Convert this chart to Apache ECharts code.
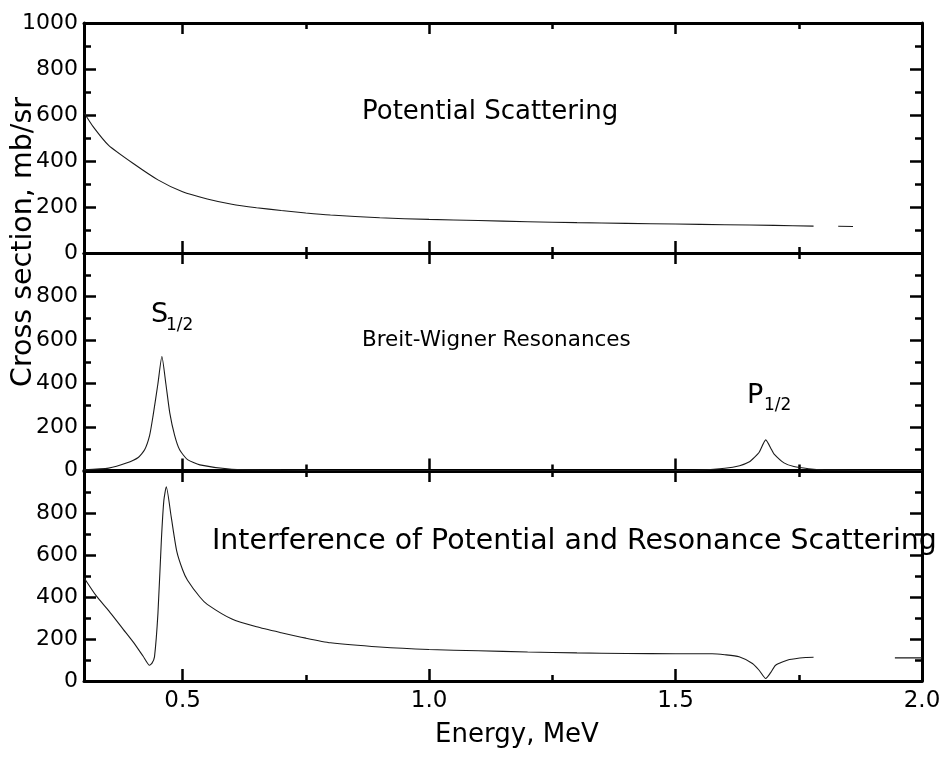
<!DOCTYPE html>
<html>
<head>
<meta charset="utf-8">
<script src="https://cdn.jsdelivr.net/npm/echarts@6/dist/echarts.min.js"></script>
<style>
html,body{margin:0;padding:0;background:#fff;}
#chart{width:944px;height:764px;}
</style>
</head>
<body>
<div id="chart"></div>
<script>
// ---- data (energy in MeV, cross section in mb/sr) ----
var potentialE     = [0.30,0.32,0.35,0.40,0.45,0.50,0.55,0.60,0.65,0.70,0.75,0.80,0.90,1.00,1.10,1.20,1.30,1.40,1.50,1.60,1.70,1.78,1.80,1.83,1.86];
var potentialSigma = [610, 545, 468, 389, 318, 266, 235, 212, 197, 185, 174, 165, 153, 146, 141, 136, 132, 129, 126, 123, 120, 117, null,116, 115];

var bwE     = [0.30,0.35,0.386,0.41,0.423,0.433,0.44,0.45,0.458,0.466,0.474,0.484,0.494,0.51,0.535,0.60,0.70,0.80,1.00,1.30,1.50,1.55,1.60,1.63,1.65,1.66,1.67,1.683,1.695,1.70,1.72,1.74,1.77,1.80,1.90,2.00];
var bwSigma = [3,   11,  34,   60,  95,   160,  250, 400, 524,  400,  265,  160,  95,   50,  26,   6,   2,   0,   0,   0,   0,   2,   10,  22,  40,  60,  85,  141,  95,   75,  35,  18,  8,   3,   0,   0];

var intE     = [0.30,0.325,0.35,0.38,0.40,0.42,0.433,0.438,0.443,0.45,0.457,0.462,0.467,0.477,0.488,0.50,0.51,0.535,0.55,0.60,0.65,0.70,0.75,0.80,0.90,1.00,1.10,1.20,1.30,1.40,1.50,1.574,1.60,1.629,1.656,1.670,1.683,1.693,1.703,1.731,1.764,1.78,1.86,1.945,2.00];
var intSigma = [492, 405,  335, 245, 185, 118, 75,   85,   115,  322, 673,  860,  925,  780,  620,  530, 480, 400,  365, 295, 258, 230, 204, 182, 162, 150, 144, 138, 134, 131, 130, 130,  125, 115,  83,   50,   12,   40,   75,   102,  112,  113, null,110,  110];

var xMajorTicks = [0.5, 1.0, 1.5, 2.0];
var xMinorTicks = [0.75, 1.25, 1.75];
var panelTexts = ['Potential Scattering', 'Breit-Wigner Resonances', 'Interference of Potential and Resonance Scattering'];

function zip(xs, ys){ return xs.map(function(x,i){ return [x, ys[i] === null ? null : ys[i]]; }); }

var FONT = '"DejaVu Sans", "Liberation Sans", Arial, sans-serif';
var BLACK = '#000';

var grids = [
  {left: 84, width: 838, top: 23,  height: 230},
  {left: 84, width: 838, top: 253, height: 217.5},
  {left: 84, width: 838, top: 471, height: 210}
];

var xAxes = [], yAxes = [];
grids.forEach(function(g, gi){
  var isBottom = gi === 2;
  xAxes.push({
    gridIndex: gi, type: 'value', min: 0.3, max: 2.0, position: 'bottom',
    axisLine: {show: true, onZero: false, lineStyle: {color: BLACK, width: 3}},
    axisTick: {show: true, inside: true, length: 12, customValues: xMajorTicks, lineStyle: {color: BLACK, width: 2.5}},
    axisLabel: {show: isBottom, customValues: xMajorTicks, margin: 9, color: BLACK, fontSize: 23, fontFamily: FONT,
      formatter: function(v){ return v.toFixed(1); }},
    splitLine: {show: false}
  });
  xAxes.push({
    gridIndex: gi, type: 'value', min: 0.3, max: 2.0, position: 'bottom',
    axisLine: {show: false, onZero: false},
    axisTick: {show: true, inside: true, length: 6, customValues: xMinorTicks, lineStyle: {color: BLACK, width: 2.5}},
    axisLabel: {show: false}, splitLine: {show: false}
  });
  xAxes.push({
    gridIndex: gi, type: 'value', min: 0.3, max: 2.0, position: 'top',
    axisLine: {show: true, onZero: false, lineStyle: {color: BLACK, width: 3}},
    axisTick: {show: true, inside: true, length: 11, customValues: xMajorTicks, lineStyle: {color: BLACK, width: 2.5}},
    axisLabel: {show: false}, splitLine: {show: false}
  });
  xAxes.push({
    gridIndex: gi, type: 'value', min: 0.3, max: 2.0, position: 'top',
    axisLine: {show: false, onZero: false},
    axisTick: {show: true, inside: true, length: 6, customValues: xMinorTicks, lineStyle: {color: BLACK, width: 2.5}},
    axisLabel: {show: false}, splitLine: {show: false}
  });
  yAxes.push({
    gridIndex: gi, type: 'value', min: 0, max: 1000, interval: 200, position: 'left',
    axisLine: {show: true, onZero: false, lineStyle: {color: BLACK, width: 3}},
    axisTick: {show: true, inside: true, length: 12, lineStyle: {color: BLACK, width: 2.5}},
    minorTick: {show: true, splitNumber: 2, length: 7, lineStyle: {color: BLACK, width: 2.5}},
    axisLabel: {show: true, margin: 6, color: BLACK, fontSize: 22, fontFamily: FONT,
      formatter: function(v){ return (gi > 0 && v === 1000) ? '' : String(v); }},
    splitLine: {show: false}
  });
  yAxes.push({
    gridIndex: gi, type: 'value', min: 0, max: 1000, interval: 200, position: 'right',
    axisLine: {show: true, onZero: false, lineStyle: {color: BLACK, width: 3}},
    axisTick: {show: true, inside: true, length: 12, lineStyle: {color: BLACK, width: 2.5}},
    minorTick: {show: true, splitNumber: 2, length: 7, lineStyle: {color: BLACK, width: 2.5}},
    axisLabel: {show: false},
    splitLine: {show: false}
  });
});

function lineSeries(gi, data){
  return {
    type: 'line', xAxisIndex: gi * 4, yAxisIndex: gi * 2, data: data,
    showSymbol: false, smooth: 0.2, connectNulls: false, silent: true,
    lineStyle: {color: '#1a1a1a', width: 1.1}, z: 1
  };
}

function txt(text, x, y, size){
  return {type: 'text', x: x, y: y, silent: true,
    style: {text: text, fill: BLACK, fontSize: size, fontFamily: FONT, align: 'left', verticalAlign: 'middle'}};
}

var chart = echarts.init(document.getElementById('chart'), null, {renderer: 'canvas'});
chart.setOption({
  backgroundColor: '#fff',
  animation: false,
  grid: grids,
  xAxis: xAxes,
  yAxis: yAxes,
  series: [
    lineSeries(0, zip(potentialE, potentialSigma)),
    lineSeries(1, zip(bwE, bwSigma)),
    lineSeries(2, zip(intE, intSigma))
  ],
  graphic: [
    txt(panelTexts[0], 362, 112, 26),
    txt(panelTexts[1], 362, 340, 21.5),
    txt(panelTexts[2], 212, 542, 28.4),
    txt('S', 151, 315, 27),
    txt('1/2', 166, 326, 17),
    txt('P', 747, 396, 27),
    txt('1/2', 764, 406, 17),
    {type: 'text', x: 517, y: 735, silent: true,
      style: {text: 'Energy, MeV', fill: BLACK, fontSize: 26, fontFamily: FONT, align: 'center', verticalAlign: 'middle'}},
    {type: 'text', x: 24, y: 242, rotation: Math.PI / 2, silent: true,
      style: {text: 'Cross section, mb/sr', fill: BLACK, fontSize: 28.5, fontFamily: FONT, align: 'center', verticalAlign: 'middle'}}
  ]
});
</script>
</body>
</html>
